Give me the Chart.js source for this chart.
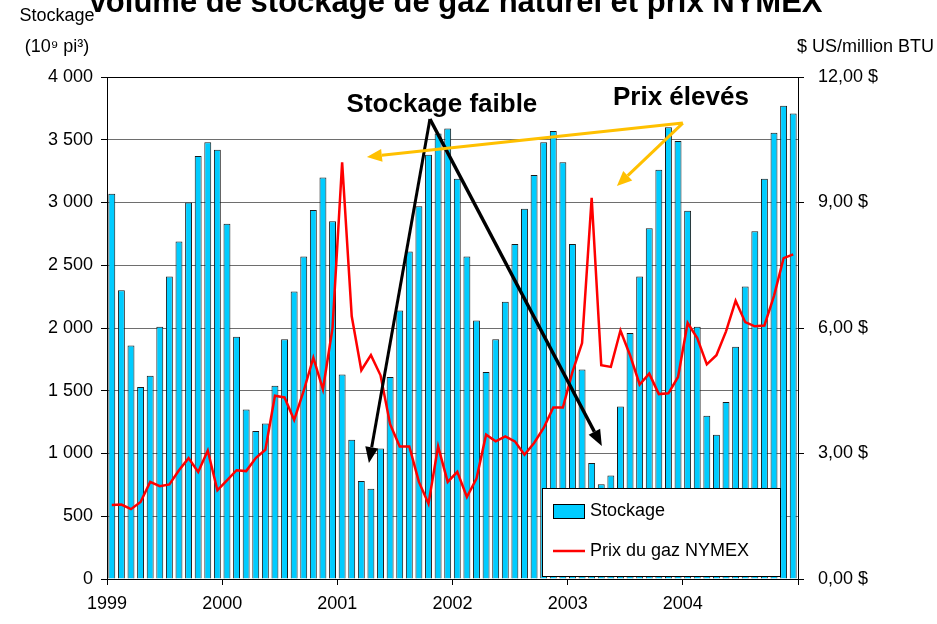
<!DOCTYPE html>
<html>
<head>
<meta charset="utf-8">
<script src="https://cdn.jsdelivr.net/npm/chart.js@4.4.1/dist/chart.umd.min.js"></script>
<style>
  html, body { margin: 0; padding: 0; background: #fff; }
  #wrap { width: 937px; height: 624px; }
</style>
</head>
<body>
<div id="wrap"><canvas id="chart"></canvas></div>
<script>
// années affichées sous l'axe (une tous les 12 mois)
const years = ['1999', '2000', '2001', '2002', '2003', '2004'];

// stockage mensuel (10^9 pi³), janv. 1999 -> déc. 2004
const storage = [
  3070, 2300, 1860, 1530, 1620, 2010, 2410, 2690, 3000, 3370, 3480, 3420,
  2830, 1930, 1350, 1180, 1240, 1540, 1910, 2290, 2570, 2940, 3200, 2850,
  1630, 1110, 780, 720, 1040, 1610, 2140, 2610, 2970, 3380, 3550, 3590,
  3190, 2570, 2060, 1650, 1910, 2210, 2670, 2950, 3220, 3480, 3570, 3320,
  2670, 1670, 925, 755, 825, 1375, 1960, 2410, 2795, 3260, 3600, 3490,
  2935, 2010, 1300, 1150, 1410, 1850, 2330, 2770, 3190, 3555, 3770, 3710
];

// prix du gaz NYMEX ($ US/million BTU)
const prices = [
  1.77, 1.78, 1.67, 1.84, 2.32, 2.22, 2.26, 2.60, 2.89, 2.56, 3.07, 2.12,
  2.36, 2.60, 2.58, 2.89, 3.09, 4.38, 4.34, 3.80, 4.50, 5.29, 4.53, 6.00,
  9.96, 6.28, 4.99, 5.35, 4.87, 3.70, 3.17, 3.17, 2.32, 1.80, 3.17, 2.32,
  2.56, 1.96, 2.40, 3.45, 3.29, 3.41, 3.29, 2.97, 3.25, 3.61, 4.10, 4.10,
  4.95, 5.64, 9.11, 5.11, 5.07, 5.94, 5.35, 4.65, 4.91, 4.42, 4.44, 4.83,
  6.12, 5.76, 5.13, 5.35, 5.92, 6.65, 6.14, 6.04, 6.06, 6.77, 7.67, 7.76
];

const FONT = '"Liberation Sans", Arial, sans-serif';
const BAR_COLOR = '#00CCFF';
const LINE_COLOR = '#FF0000';
const GOLD = '#FFC000';

Chart.defaults.font.family = FONT;
Chart.defaults.font.size = 18;
Chart.defaults.color = '#000';

// 4000 -> "4 000"
function fmtStorage(v) {
  if (v < 1000) return String(v);
  return Math.floor(v / 1000) + ' ' + String(v % 1000).padStart(3, '0');
}

function drawArrow(ctx, x0, y0, x1, y1, color, width, headLen, headW) {
  const ang = Math.atan2(y1 - y0, x1 - x0);
  const bx = x1 - headLen * Math.cos(ang);
  const by = y1 - headLen * Math.sin(ang);
  ctx.save();
  ctx.strokeStyle = color;
  ctx.fillStyle = color;
  ctx.lineWidth = width;
  ctx.beginPath();
  ctx.moveTo(x0, y0);
  ctx.lineTo(bx, by);
  ctx.stroke();
  ctx.beginPath();
  ctx.moveTo(x1, y1);
  ctx.lineTo(bx + headW / 2 * Math.sin(ang), by - headW / 2 * Math.cos(ang));
  ctx.lineTo(bx - headW / 2 * Math.sin(ang), by + headW / 2 * Math.cos(ang));
  ctx.closePath();
  ctx.fill();
  ctx.restore();
}

// titre, titres d'axes, légende et flèches
const overlay = {
  id: 'overlay',
  afterDraw(chart) {
    const { ctx, chartArea: a, scales: { x, y } } = chart;
    const px = v => x.getPixelForValue(v);
    const py = v => y.getPixelForValue(v);

    ctx.save();
    ctx.fillStyle = '#000';
    ctx.textBaseline = 'alphabetic';

    ctx.font = 'bold 31px ' + FONT;
    ctx.textAlign = 'center';
    ctx.fillText('Volume de stockage de gaz naturel et prix NYMEX', 455, 12);

    ctx.font = '18px ' + FONT;
    ctx.fillText('Stockage', 57, 21);
    ctx.fillText('(10⁹ pi³)', 57, 52);
    ctx.textAlign = 'right';
    ctx.fillText('$ US/million BTU', 934, 52);

    // légende
    const lx = a.right - 256, ly = a.bottom - 91;
    ctx.fillStyle = '#fff';
    ctx.fillRect(lx, ly, 238, 88);
    ctx.strokeStyle = '#000';
    ctx.lineWidth = 1;
    ctx.strokeRect(lx + 0.5, ly + 0.5, 238, 88);
    ctx.fillStyle = BAR_COLOR;
    ctx.fillRect(lx + 11, ly + 16, 31, 14);
    ctx.strokeRect(lx + 11.5, ly + 16.5, 31, 14);
    ctx.strokeStyle = LINE_COLOR;
    ctx.lineWidth = 2.5;
    ctx.beginPath();
    ctx.moveTo(lx + 11, ly + 63);
    ctx.lineTo(lx + 43, ly + 63);
    ctx.stroke();
    ctx.fillStyle = '#000';
    ctx.textAlign = 'left';
    ctx.textBaseline = 'middle';
    ctx.fillText('Stockage', lx + 48, ly + 23);
    ctx.fillText('Prix du gaz NYMEX', lx + 48, ly + 63);

    // annotations
    ctx.textBaseline = 'alphabetic';
    ctx.textAlign = 'center';
    ctx.font = 'bold 26px ' + FONT;
    ctx.fillText('Stockage faible', px(34.9), py(3721));
    ctx.fillText('Prix élevés', px(59.8), py(3777));
    ctx.restore();

    drawArrow(ctx, px(33.65), py(3665), px(27.29), py(924), '#000', 3, 16, 13);
    drawArrow(ctx, px(33.65), py(3665), px(51.56), py(1060), '#000', 3.5, 16, 13);
    drawArrow(ctx, px(60.0), py(3633), px(27.08), py(3363), GOLD, 3, 15, 13);
    drawArrow(ctx, px(60.0), py(3633), px(53.13), py(3131), GOLD, 3, 15, 13);
  }
};

new Chart(document.getElementById('chart'), {
  type: 'bar',
  data: {
    datasets: [
      {
        type: 'line',
        label: 'Prix du gaz NYMEX',
        data: prices.map((v, i) => ({ x: i + 0.5, y: v })),
        yAxisID: 'y1',
        borderColor: LINE_COLOR,
        borderWidth: 2.5,
        pointRadius: 0,
        tension: 0,
        order: 0
      },
      {
        type: 'bar',
        label: 'Stockage',
        data: storage.map((v, i) => ({ x: i + 0.5, y: v })),
        yAxisID: 'y',
        backgroundColor: BAR_COLOR,
        borderColor: '#1a1a1a',
        borderWidth: 1,
        barPercentage: 0.72,
        categoryPercentage: 1,
        order: 1
      }
    ]
  },
  options: {
    responsive: true,
    maintainAspectRatio: false,
    animation: false,
    layout: { padding: { top: 77, left: 0, right: 0, bottom: 0 } },
    plugins: {
      legend: { display: false },
      tooltip: { enabled: false }
    },
    scales: {
      x: {
        type: 'linear',
        min: 0,
        max: 72,
        offset: false,
        afterFit: s => { s.height = 45; },
        ticks: {
          stepSize: 12,
          autoSkip: false,
          maxRotation: 0,
          padding: 8,
          callback: v => (v < 72 && v % 12 === 0) ? years[v / 12] : ''
        },
        grid: { offset: false, drawOnChartArea: false, drawTicks: true, tickLength: 6, tickColor: '#000' },
        border: { color: '#000' }
      },
      y: {
        position: 'left',
        min: 0,
        max: 4000,
        afterFit: s => { s.width = 107; },
        ticks: { stepSize: 500, padding: 8, callback: fmtStorage },
        grid: {
          color: c => (c.tick && c.tick.value === 4000) ? '#000' : '#6e6e6e',
          tickColor: '#000',
          tickLength: 6
        },
        border: { color: '#000' }
      },
      y1: {
        position: 'right',
        min: 0,
        max: 12,
        afterFit: s => { s.width = 139; },
        ticks: { stepSize: 3, padding: 14, callback: v => v.toFixed(2).replace('.', ',') + ' $' },
        grid: { drawOnChartArea: false, tickColor: '#000', tickLength: 6 },
        border: { color: '#000' }
      }
    }
  },
  plugins: [overlay]
});
</script>
</body>
</html>
